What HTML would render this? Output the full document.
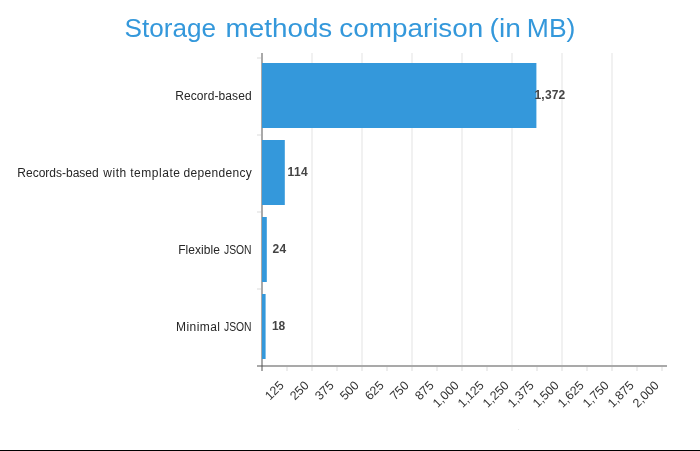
<!DOCTYPE html>
<html>
<head>
<meta charset="utf-8">
<style>
html,body{margin:0;padding:0;background:#fff;}
body{width:700px;height:451px;overflow:hidden;font-family:"Liberation Sans",sans-serif;}
svg{display:block;will-change:transform;}
text{font-family:"Liberation Sans",sans-serif;}
</style>
</head>
<body>
<svg width="700" height="451" viewBox="0 0 700 451">
<rect x="0" y="0" width="700" height="451" fill="#ffffff"/>
<g font-size="26.4" fill="#3498db">
<text x="124.5" y="36.8" textLength="91.5" lengthAdjust="spacingAndGlyphs">Storage</text>
<text x="225.5" y="36.8" textLength="106.8" lengthAdjust="spacingAndGlyphs">methods</text>
<text x="339.3" y="36.8" textLength="144.0" lengthAdjust="spacingAndGlyphs">comparison</text>
<text x="489.6" y="36.8" textLength="31.3" lengthAdjust="spacingAndGlyphs">(in</text>
<text x="526.8" y="36.8" textLength="48.6" lengthAdjust="spacingAndGlyphs">MB)</text>
</g>
<g stroke="#ebebeb" stroke-width="1.4">
<line x1="312" y1="53" x2="312" y2="365"/>
<line x1="362" y1="53" x2="362" y2="365"/>
<line x1="412" y1="53" x2="412" y2="365"/>
<line x1="462" y1="53" x2="462" y2="365"/>
<line x1="512" y1="53" x2="512" y2="365"/>
<line x1="562" y1="53" x2="562" y2="365"/>
<line x1="612" y1="53" x2="612" y2="365"/>
</g>
<g stroke="#e6e6e6" stroke-width="1.4">
<line x1="257" y1="58" x2="262" y2="58"/>
<line x1="257" y1="135" x2="262" y2="135"/>
<line x1="257" y1="212" x2="262" y2="212"/>
<line x1="257" y1="289" x2="262" y2="289"/>
</g>
<g stroke="#e6e6e6" stroke-width="1.4">
<line x1="287" y1="366" x2="287" y2="371"/>
<line x1="312" y1="366" x2="312" y2="371"/>
<line x1="337" y1="366" x2="337" y2="371"/>
<line x1="362" y1="366" x2="362" y2="371"/>
<line x1="387" y1="366" x2="387" y2="371"/>
<line x1="412" y1="366" x2="412" y2="371"/>
<line x1="437" y1="366" x2="437" y2="371"/>
<line x1="462" y1="366" x2="462" y2="371"/>
<line x1="487" y1="366" x2="487" y2="371"/>
<line x1="512" y1="366" x2="512" y2="371"/>
<line x1="537" y1="366" x2="537" y2="371"/>
<line x1="562" y1="366" x2="562" y2="371"/>
<line x1="587" y1="366" x2="587" y2="371"/>
<line x1="612" y1="366" x2="612" y2="371"/>
<line x1="637" y1="366" x2="637" y2="371"/>
<line x1="662" y1="366" x2="662" y2="371"/>
</g>
<g stroke="#a9a9a9" stroke-width="2">
<line x1="262" y1="53" x2="262" y2="371"/>
<line x1="257" y1="366" x2="667" y2="366"/>
</g>
<rect x="261" y="365" width="2" height="2" fill="#7d7d7d"/>
<g fill="#3498db">
<rect x="262" y="63" width="274.4" height="65"/>
<rect x="262" y="140" width="22.8" height="65"/>
<rect x="262" y="217" width="4.8" height="65"/>
<rect x="262" y="294" width="3.6" height="65"/>
</g>
<g font-size="12" fill="#262626">
<text x="175.2" y="100" textLength="76.4" lengthAdjust="spacing">Record-based</text>
<text x="17.3" y="177" textLength="81.4" lengthAdjust="spacing">Records-based</text>
<text x="103.2" y="177" textLength="23.0" lengthAdjust="spacing">with</text>
<text x="130.2" y="177" textLength="49.8" lengthAdjust="spacing">template</text>
<text x="183.4" y="177" textLength="68.4" lengthAdjust="spacing">dependency</text>
<text x="178.2" y="254" textLength="41.8" lengthAdjust="spacing">Flexible</text>
<text x="224.0" y="254" textLength="27.6" lengthAdjust="spacingAndGlyphs">JSON</text>
<text x="176.0" y="331" textLength="44.0" lengthAdjust="spacing">Minimal</text>
<text x="224.0" y="331" textLength="27.6" lengthAdjust="spacingAndGlyphs">JSON</text>
</g>
<g font-size="12" font-weight="bold" fill="#444444">
<text x="534.5" y="99" textLength="30.8" lengthAdjust="spacing">1,372</text>
<text x="287.6" y="176" textLength="20.0" lengthAdjust="spacing">114</text>
<text x="272.5" y="253" textLength="13.8" lengthAdjust="spacing">24</text>
<text x="272.1" y="330" textLength="13.2" lengthAdjust="spacing">18</text>
</g>
<g font-size="12.4" fill="#333333" text-anchor="end">
<text transform="translate(281.8,383.4) rotate(-45)" x="0" y="4">125</text>
<text transform="translate(306.8,383.4) rotate(-45)" x="0" y="4">250</text>
<text transform="translate(331.8,383.4) rotate(-45)" x="0" y="4">375</text>
<text transform="translate(356.8,383.4) rotate(-45)" x="0" y="4">500</text>
<text transform="translate(381.8,383.4) rotate(-45)" x="0" y="4">625</text>
<text transform="translate(406.8,383.4) rotate(-45)" x="0" y="4">750</text>
<text transform="translate(431.8,383.4) rotate(-45)" x="0" y="4">875</text>
<text transform="translate(456.8,383.4) rotate(-45)" x="0" y="4">1,000</text>
<text transform="translate(481.8,383.4) rotate(-45)" x="0" y="4">1,125</text>
<text transform="translate(506.8,383.4) rotate(-45)" x="0" y="4">1,250</text>
<text transform="translate(531.8,383.4) rotate(-45)" x="0" y="4">1,375</text>
<text transform="translate(556.8,383.4) rotate(-45)" x="0" y="4">1,500</text>
<text transform="translate(581.8,383.4) rotate(-45)" x="0" y="4">1,625</text>
<text transform="translate(606.8,383.4) rotate(-45)" x="0" y="4">1,750</text>
<text transform="translate(631.8,383.4) rotate(-45)" x="0" y="4">1,875</text>
<text transform="translate(656.8,383.4) rotate(-45)" x="0" y="4">2,000</text>
</g>
<rect x="0" y="450" width="700" height="1" fill="#000000"/><rect x="518" y="429" width="1" height="1" fill="#e8e8e8"/>
</svg>
</body>
</html>
